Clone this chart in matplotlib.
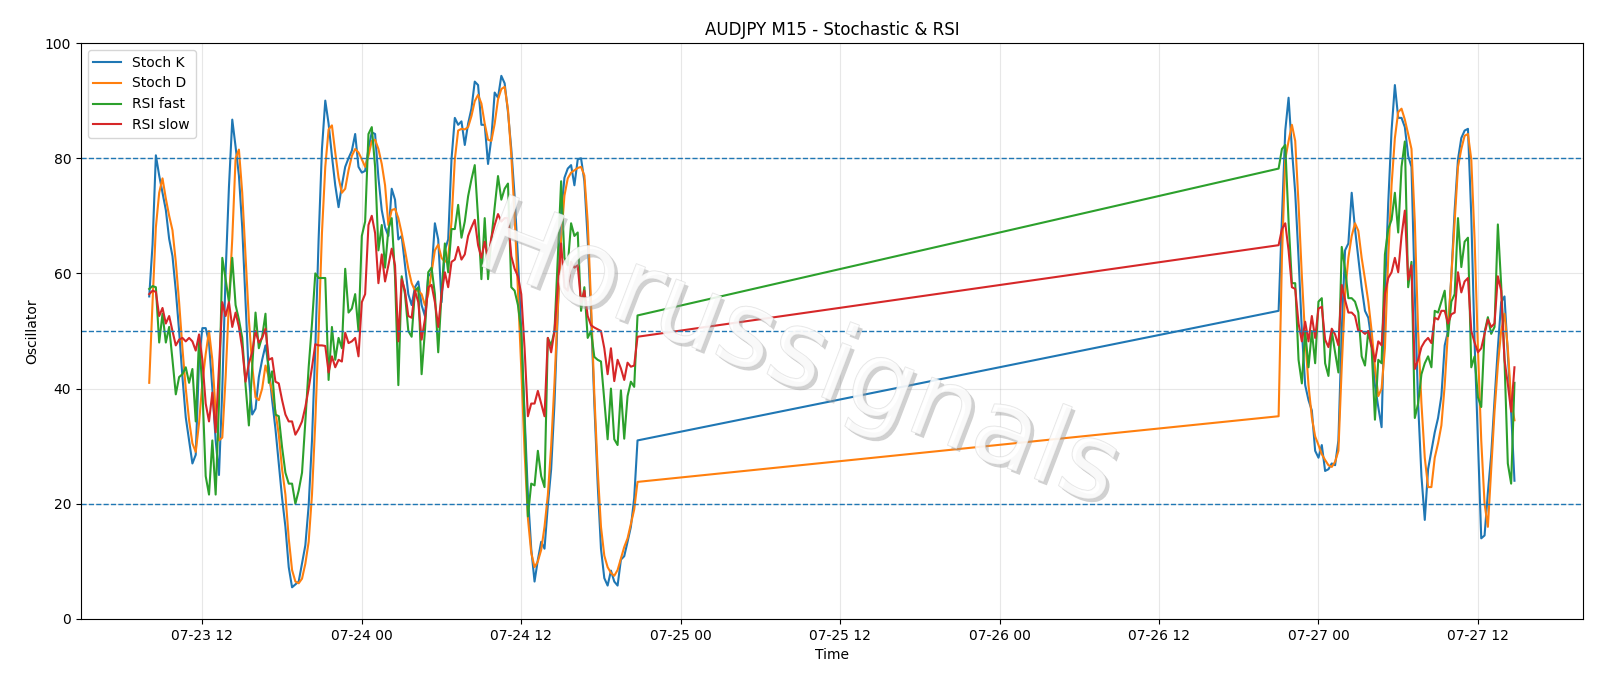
import matplotlib
matplotlib.use("Agg")
import matplotlib.pyplot as plt
import matplotlib.dates as mdates
import matplotlib.patheffects as pe
import pandas as pd

# Friday session (07-23 08:00 -> 07-24 20:45) and Sunday/Monday session (07-26 21:00 -> 07-27 14:45), 15 min bars
session1_start = "2020-07-23 08:00"
session2_start = "2020-07-26 21:00"

stoch_k_s1 = [56, 65, 80.5, 77, 74, 71, 66, 63, 57, 50,
              42, 35, 31, 27, 28.5, 45, 50.5, 50.5, 48, 40,
              31, 25, 40, 60, 75, 86.7, 82, 77, 68, 55,
              42, 35.5, 36.5, 42, 45, 47.5, 43.7, 38, 33, 27,
              21, 16, 9, 5.5, 6, 6.5, 9.6, 12.8, 19.7, 31,
              47, 66, 81.6, 90, 86, 80.4, 75.3, 71.5, 75.3, 78.5,
              80, 81.3, 84.2, 78.5, 77.5, 77.8, 81.6, 84.5, 84.2, 76.6,
              71, 68, 66.5, 74.7, 72.8, 65.9, 66.5, 61.4, 56.4, 54.5,
              57.6, 58.6, 54.5, 52.6, 59.5, 60.2, 68.7, 65.9, 55, 64,
              65.9, 79.8, 87, 85.8, 86.4, 82.3, 86, 88.6, 93.3, 92.7,
              85.8, 85.8, 79, 83.5, 91.4, 90.5, 94.3, 93, 88, 81.6,
              73.4, 62.7, 50, 35.5, 21.6, 12.2, 6.5, 10.3, 13.4, 12.2,
              19.7, 26, 37.4, 53.2, 70.3, 76.6, 78.2, 78.8, 75.3, 79.8,
              80, 76, 65.9, 53.2, 37.4, 23.5, 12.2, 7.1, 5.8, 8.4,
              6.5, 5.8, 10.3, 10.9, 13.4, 16, 21, 31]
stoch_d_s1 = [41, 55, 68, 74, 76.5, 73, 70, 67.5, 62, 55,
              47, 40, 34.5, 30.5, 29, 34, 41, 46, 50, 45,
              36, 31, 31.5, 42, 55, 66, 80, 81.5, 74, 63,
              52, 44, 38.5, 38, 40, 44, 42, 39.5, 36, 32,
              26, 21.6, 14, 8.5, 6.5, 6.2, 7, 9.6, 13.4, 21.6,
              34.3, 50, 67, 78.5, 85, 85.7, 81, 76.6, 74, 74.7,
              77.9, 80.4, 81.6, 81, 79.8, 78.5, 80.4, 83, 83.2, 81.6,
              79, 75.3, 68.4, 71, 71.2, 69.6, 67, 64, 60.8, 58.3,
              57, 57, 56.4, 54.5, 56.4, 60.2, 64, 65, 62.7, 62,
              62.7, 69, 79.8, 84.8, 85.1, 85, 85.4, 87.3, 89.9, 91,
              89.5, 86, 83.2, 83, 86, 90.2, 92, 92.4, 88.5, 80.5,
              70, 57, 43.5, 29, 17.5, 11.5, 9, 10, 12, 16,
              21.5, 30, 41, 54, 66, 73.5, 76.5, 77.5, 77.9, 78.3,
              78.5, 77, 69, 55, 39, 26, 16, 11, 9, 8,
              7.5, 8.5, 10.5, 12.5, 14, 16.5, 19, 23.8]
rsi_fast_s1 = [57.3, 57.8, 57.6, 48, 53, 48, 50.7, 45, 39, 42,
               42.5, 43.7, 41, 43.4, 34.3, 48.8, 40, 24.8, 21.6, 31,
               21.6, 37.4, 62.7, 59, 55, 62.7, 54.5, 52, 48.8, 40.6,
               33.6, 43.7, 53.2, 47, 49, 53, 41, 43, 35.5, 35.2,
               29.8, 25.4, 23.5, 23.5, 20, 22.3, 25.4, 34.3, 43.7, 51.3,
               60, 59.2, 59.2, 59.2, 41.5, 50.7, 45, 48.8, 47, 60.8,
               53.2, 53.9, 56.4, 50, 66.5, 69, 84.2, 85.4, 78.5, 64,
               68.4, 61, 67.7, 69.6, 59.5, 40.6, 59.5, 56.4, 50, 49,
               57, 57.6, 42.5, 50, 60.2, 61, 56.4, 46.3, 56.4, 65.2,
               60.2, 67.7, 67.7, 71.9, 66.2, 69, 73.4, 76.3, 78.8, 69.6,
               59, 69.6, 59, 65.9, 71.5, 76.9, 72.8, 74.7, 75.6, 57.6,
               57, 54.5, 50, 34.3, 17.8, 23.5, 23.2, 29.2, 24.8, 22.9,
               48.8, 47.5, 50, 62.7, 76, 62.7, 61.4, 68.7, 66.5, 67.1,
               53.5, 57.6, 48.8, 50, 45.5, 45, 44.7, 38, 31.2, 40,
               31.2, 30.2, 39.7, 31.3, 38.7, 41.2, 40.3, 52.7]
rsi_slow_s1 = [56.4, 57, 56.8, 52.6, 54, 51.3, 52.6, 50, 47.5, 48.5,
               48.8, 48.2, 48.8, 48.2, 46.6, 49.4, 45, 37.4, 34.3, 39.3,
               32.4, 43.7, 55, 52.6, 55, 50.7, 53.2, 50.7, 47, 41.2,
               44.4, 46.3, 50, 48, 48.8, 50.4, 45, 45.3, 41.2, 40.9,
               38, 35.5, 34.3, 34.3, 32, 33, 34.3, 36.8, 40, 43.7,
               47.7, 47.5, 47.5, 47.4, 42.8, 45.6, 43.7, 45, 44.7, 49.7,
               47.9, 48.2, 48.8, 45.6, 55, 56.4, 68.4, 70, 67, 58.3,
               63.3, 58.6, 61.4, 64.3, 61.4, 48.2, 59, 57, 52.6, 52.3,
               57, 55, 48.5, 52, 57.6, 58, 55, 50.7, 56.4, 60.2,
               57.6, 62, 62.4, 64.6, 62.4, 63.3, 66.5, 68, 69.3, 64.9,
               62.7, 65.5, 62.4, 66.2, 68.4, 70.3, 69, 69.6, 69.6, 63,
               60.8, 59.5, 56.4, 47, 35.2, 37.4, 37.4, 39.6, 37.4, 35.2,
               48.8, 46.3, 50, 57.6, 65.2, 57.6, 57, 62, 61, 61.4,
               55, 57, 52.6, 51, 50.6, 50.3, 50, 47, 42.5, 47,
               41.3, 45, 43.5, 41.5, 44.5, 43.8, 44, 49]

stoch_k_s2 = [53.5, 69.6, 84.8, 90.5, 81.6, 74, 62.7, 50, 40.6, 38,
              36.2, 29.2, 28, 30.2, 25.7, 26, 27, 26.7, 31, 50,
              64, 65.2, 74, 67.7, 62.7, 57.6, 53.5, 52.3, 48.2, 40.6,
              36.8, 33.3, 56.4, 72.2, 84.8, 92.7, 87, 87, 85.4, 80.4,
              78.5, 56.4, 37.4, 24.8, 17.2, 26, 29.2, 32.4, 34.9, 38.7,
              47.5, 50, 59.5, 71, 79.8, 83.5, 84.8, 85.1, 70, 48,
              31, 14, 14.5, 22, 28.5, 38, 47, 55, 56, 46,
              36, 24]
stoch_d_s2 = [35.2, 62.7, 79.8, 83, 85.8, 83, 72, 59.5, 48.8, 40.6,
              35, 31.7, 30.2, 28.6, 27.6, 26.7, 26.4, 27.3, 29.2, 43.7,
              56.4, 62.7, 66.5, 68.7, 67.4, 62.7, 59, 55.1, 50, 43.7,
              38.7, 40, 47, 62.7, 75.3, 83.5, 88, 88.6, 86.7, 84.2,
              81.6, 69, 50, 37.4, 28, 22.9, 22.9, 28, 30.5, 33.6,
              40.6, 50, 59.5, 69, 78.5, 81.6, 83.9, 84.2, 79.8, 65.9,
              47, 31, 20, 16, 26, 36, 44, 50, 53, 47,
              38, 34.5]
rsi_fast_s2 = [78.2, 81.6, 82.3, 69, 58.3, 58.3, 45, 40.9, 50, 43.7,
               50, 44.4, 55.1, 55.7, 44.4, 42.2, 50, 46.3, 42.8, 64.6,
               60.8, 55.7, 55.7, 55.1, 53.2, 45.6, 44, 50, 47, 34.6,
               45, 44.4, 63.3, 67.7, 69.3, 74, 67.1, 78.5, 82.9, 57.6,
               62, 34.9, 37.4, 42.5, 44.4, 45.6, 43.7, 53.5, 53.2, 55.1,
               57, 49.1, 55.1, 56.4, 69.6, 61.1, 65.5, 66.2, 43.7, 45.6,
               38.5, 36.8, 49.8, 52.4, 49.5, 50.7, 68.5, 58, 45, 27,
               23.5, 41]
rsi_slow_s2 = [64.9, 67.7, 68.7, 64, 57.6, 57.3, 51.3, 48.2, 51.6, 48.2,
               52.6, 48.8, 53.9, 54.2, 48.5, 47.2, 50.4, 49.4, 47.5, 58,
               55.4, 53.2, 53.2, 52.6, 50, 50, 49.5, 50, 47.5, 44.7,
               48.2, 47.5, 56.4, 59.2, 60.2, 62.7, 60.2, 66.5, 70.9, 58.9,
               61.4, 43.4, 45, 47.2, 48.2, 48.8, 47.9, 52.3, 52, 53.5,
               53.5, 51.3, 52.9, 53.2, 60.2, 56.7, 58.6, 59.2, 50, 48,
               46.3, 47, 49.5, 52, 50.7, 51.3, 59.5, 57, 45, 40.8,
               36, 43.7]

levels = [20, 50, 80]

times = pd.date_range(session1_start, periods=len(stoch_k_s1), freq="15min").append(
    pd.date_range(session2_start, periods=len(stoch_k_s2), freq="15min"))

df = pd.DataFrame({
    "Stoch K": stoch_k_s1 + stoch_k_s2,
    "Stoch D": stoch_d_s1 + stoch_d_s2,
    "RSI fast": rsi_fast_s1 + rsi_fast_s2,
    "RSI slow": rsi_slow_s1 + rsi_slow_s2,
}, index=times)

fig = plt.figure(figsize=(16, 6.86), dpi=100)
ax = fig.add_axes([0.0506, 0.0977, 0.9386, 0.8396])

for col in df.columns:
    ax.plot(df.index, df[col], linewidth=1.5, label=col)

for lvl in levels:
    ax.axhline(lvl, color="tab:blue", linestyle="--", linewidth=1)

ax.set_ylim(0, 100)
ax.set_title("AUDJPY M15 - Stochastic & RSI")
ax.set_xlabel("Time")
ax.set_ylabel("Oscillator")
ax.xaxis.set_major_locator(mdates.HourLocator(byhour=[0, 12]))
ax.xaxis.set_major_formatter(mdates.DateFormatter("%m-%d %H"))
ax.grid(True, alpha=0.3)
ax.legend(loc="upper left")

# watermark
ax.text(0.478, 0.455, "Horussignals", transform=ax.transAxes, fontsize=76,
        rotation=-21, ha="center", va="center", color="white", alpha=0.5,
        zorder=10,
        path_effects=[pe.withSimplePatchShadow(offset=(2.5, -2.5), shadow_rgbFace="#999999", alpha=0.45),
                      pe.Stroke(linewidth=0.8, foreground="#c8c8c8"), pe.Normal()])

fig.savefig("out.png", dpi=100)
